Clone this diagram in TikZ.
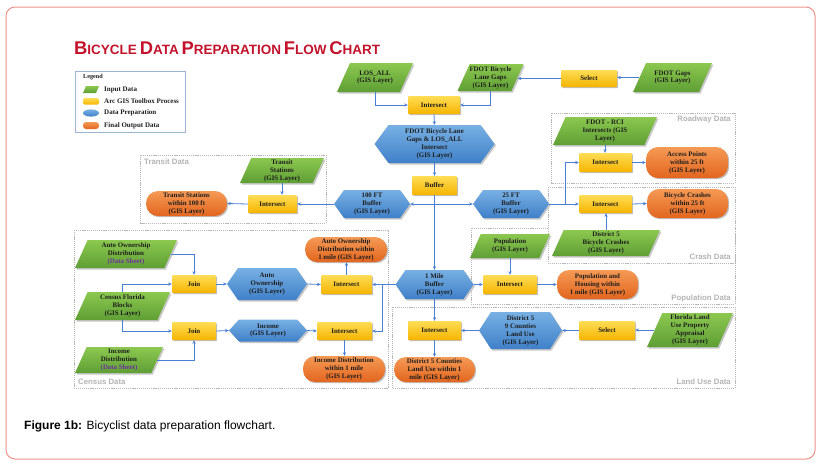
\documentclass[tikz,border=0pt]{standalone}
\usepackage{fontspec}
\setmainfont{Liberation Serif}
\newfontfamily\sansf{Liberation Sans}
\usetikzlibrary{arrows.meta,shadows}
\definecolor{gtop}{HTML}{8CC850}
\definecolor{gbot}{HTML}{5E9E34}
\definecolor{ytop}{HTML}{FFDD55}
\definecolor{ybot}{HTML}{F5B400}
\definecolor{btop}{HTML}{78B0E4}
\definecolor{bbot}{HTML}{3F80C8}
\definecolor{otop}{HTML}{F59A55}
\definecolor{obot}{HTML}{E2651E}
\definecolor{connc}{HTML}{4A7FD6}
\definecolor{grpc}{HTML}{B4B4B4}
\definecolor{titlec}{HTML}{C3122B}
\definecolor{framec}{HTML}{EE9088}
\definecolor{txtc}{HTML}{1E1E1E}
\definecolor{purp}{HTML}{7030A0}
\definecolor{legc}{HTML}{9DB5D5}
\newcommand\SCw[2]{{\fontsize{18.4}{18}\selectfont #1}{\fontsize{13.5}{18}\selectfont #2}}
\newcommand\paranode[6]{%
  \pgfmathsetmacro\PxL{#2-#4/2}\pgfmathsetmacro\PxR{#2+#4/2}%
  \pgfmathsetmacro\PyT{#3-#5/2}\pgfmathsetmacro\PyB{#3+#5/2}%
  \pgfmathsetmacro\PsL{0.45*#5}%
  \fill[black!22] ({\PxL+1.5},{\PyB+1.5}) -- ({\PxR-\PsL+1.5},{\PyB+1.5}) -- ({\PxR+1.5},{\PyT+1.5}) -- ({\PxL+\PsL+1.5},{\PyT+1.5}) -- cycle;
  \shade[top color=gtop,bottom color=gbot] (\PxL,\PyB) -- ({\PxR-\PsL},\PyB) -- (\PxR,\PyT) -- ({\PxL+\PsL},\PyT) -- cycle;
  \node[lbl, minimum width={#4-\PsL}, minimum height=#5] (#1) at (#2,#3) {#6};}
\newcommand\hexnode[7]{%
  \pgfmathsetmacro\PxL{#2-#4/2}\pgfmathsetmacro\PxR{#2+#4/2}%
  \pgfmathsetmacro\PyT{#3-#5/2}\pgfmathsetmacro\PyB{#3+#5/2}%
  \fill[black!22] ({\PxL+1.5},{#3+1.5}) -- ({\PxL+#6+1.5},{\PyT+1.5}) -- ({\PxR-#6+1.5},{\PyT+1.5}) -- ({\PxR+1.5},{#3+1.5}) -- ({\PxR-#6+1.5},{\PyB+1.5}) -- ({\PxL+#6+1.5},{\PyB+1.5}) -- cycle;
  \shade[top color=btop,bottom color=bbot] (\PxL,#3) -- ({\PxL+#6},\PyT) -- ({\PxR-#6},\PyT) -- (\PxR,#3) -- ({\PxR-#6},\PyB) -- ({\PxL+#6},\PyB) -- cycle;
  \node[lbl, minimum width=#4, minimum height=#5] (#1) at (#2,#3) {#7};}
\begin{document}
\begin{tikzpicture}[x=1pt,y=-1pt,
  lbl/.style={inner sep=0pt, align=center, text=txtc, font=\fontsize{6.9}{7.9}\selectfont\bfseries},
  ybox/.style={lbl, rounded corners=1pt, top color=ytop, bottom color=ybot,
    drop shadow={shadow xshift=1.2pt, shadow yshift=-1.2pt, fill=black, opacity=0.25}},
  obox/.style={lbl, rounded corners=12pt, top color=otop, bottom color=obot,
    drop shadow={shadow xshift=1.2pt, shadow yshift=-1.2pt, fill=black, opacity=0.25}},
  grpbox/.style={draw=black!28, line width=0.5pt, dash pattern=on 1.2pt off 0.9pt, fill=white},
  grplbl/.style={inner sep=0pt, text=grpc, font=\sansf\bfseries\fontsize{7.8}{8}\selectfont},
  conn/.style={draw=connc, line width=0.8pt, -{Stealth[length=3.6pt,width=3.2pt]}},
  legtxt/.style={inner sep=0pt, anchor=west, text=txtc, font=\fontsize{7}{8}\selectfont\bfseries}]
\useasboundingbox (0,0) rectangle (821,467);
% frame
\draw[framec, line width=1pt, rounded corners=9pt] (6,7) rectangle (815,459);
% title
\node[anchor=west, inner sep=0pt, text=titlec, font=\sansf\bfseries] (title) at (74,48)
  {\SCw{B}{ICYCLE} \SCw{D}{ATA} \SCw{P}{REPARATION} \SCw{F}{LOW} \SCw{C}{HART}};
% legend
\draw[legc, line width=0.7pt] (75,71) rectangle (185,132);
\node[legtxt, font=\fontsize{6.2}{7}\selectfont\bfseries] (legt) at (83,77) {Legend};
\shade[top color=gtop,bottom color=gbot] (83,93) -- (96,93) -- (99,86) -- (86,86) -- cycle;
\shade[top color=ytop,bottom color=ybot, rounded corners=1.5pt] (83,98) rectangle (99,104.5);
\shade[top color=btop,bottom color=bbot] (91,113) ellipse [x radius=8, y radius=3.6];
\shade[top color=otop,bottom color=obot, rounded corners=3pt] (83,122) rectangle (99,129);
\node[legtxt] (l1) at (104,89.5) {Input Data};
\node[legtxt] (l2) at (104,101.5) {Arc GIS Toolbox Process};
\node[legtxt] (l3) at (104,113) {Data Preparation};
\node[legtxt] (l4) at (104,125.5) {Final Output Data};
% group boxes
\draw[grpbox] (140,155) rectangle (326,223);
\node[grplbl, anchor=west] (gtr) at (144,161.5) {Transit Data};
\draw[grpbox] (551,113) rectangle (735,183);
\node[grplbl, anchor=east] (grd) at (731,119.5) {Roadway Data};
\draw[grpbox] (471,228) rectangle (735,304);
\node[grplbl, anchor=east] (gpd) at (731,298.5) {Population Data};
\draw[grpbox] (548,187) rectangle (735,263);
\node[grplbl, anchor=east] (gcd) at (731,256.5) {Crash Data};
\draw[grpbox] (392,307) rectangle (735,388);
\node[grplbl, anchor=east] (gld) at (731,382) {Land Use Data};
\draw[grpbox] (74,230) rectangle (388,388);
\node[grplbl, anchor=west] (gce) at (78,381.5) {Census Data};
% top row
\paranode{los}{375}{77.5}{76}{29}{LOS\_ALL\\(GIS Layer)}
\paranode{lg}{490.5}{77.5}{66}{27}{FDOT Bicycle\\Lane Gaps\\(GIS Layer)}
\paranode{gaps}{672.5}{77.5}{79}{29}{FDOT Gaps\\(GIS Layer)}
\node[ybox, minimum width=56, minimum height=17] (sel1) at (589,78.5) {Select};
\node[ybox, minimum width=52, minimum height=18] (i1) at (434,105) {Intersect};
\hexnode{hb}{434.5}{144}{120}{38}{14}{FDOT Bicycle Lane\\Gaps \& LOS\_ALL\\Intersect\\(GIS Layer)}
\node[ybox, minimum width=45, minimum height=19] (buf) at (434.5,185.5) {Buffer};
\hexnode{ft100}{372}{204}{76}{28}{10}{100 FT\\Buffer\\(GIS Layer)}
\hexnode{ft25}{511}{204}{76}{28}{10}{25 FT\\Buffer\\(GIS Layer)}
% transit
\paranode{ts}{282}{170.5}{84}{25}{Transit\\Stations\\(GIS Layer)}
\node[ybox, minimum width=49, minimum height=18] (ti) at (272.5,204) {Intersect};
\node[obox, minimum width=81, minimum height=25] (tso) at (186.5,203.5) {Transit Stations\\within 100 ft\\(GIS Layer)};
% roadway / crash
\paranode{rci}{605}{131}{104}{28}{FDOT - RCI\\Intersects (GIS\\Layer)}
\node[ybox, minimum width=53, minimum height=19] (ri) at (605.5,162.5) {Intersect};
\node[obox, minimum width=82, minimum height=31] (ap) at (687,162.5) {Access Points\\within 25 ft\\(GIS Layer)};
\node[ybox, minimum width=53, minimum height=18] (ci) at (605.5,204) {Intersect};
\node[obox, minimum width=81, minimum height=29] (bc) at (687.5,203.5) {Bicycle Crashes\\within 25 ft\\(GIS Layer)};
\paranode{d5bc}{606}{243}{108}{26}{District 5\\Bicycle Crashes\\(GIS Layer)}
% population
\paranode{pop}{510}{246}{80}{24}{Population\\(GIS Layer)}
\node[ybox, minimum width=54, minimum height=19] (pi) at (510,284.5) {Intersect};
\node[obox, minimum width=81, minimum height=29] (ph) at (597.5,284.5) {Population and\\Housing within\\1 mile (GIS Layer)};
\hexnode{mile}{434.5}{284.5}{78}{29}{10}{1 Mile\\Buffer\\(GIS Layer)}
% land use
\node[ybox, minimum width=53, minimum height=19] (lui) at (434.5,330.5) {Intersect};
\hexnode{luh}{520.5}{330.5}{83}{37}{12}{District 5\\9 Counties\\Land Use\\(GIS Layer)}
\node[ybox, minimum width=56, minimum height=19] (sel2) at (607,330.5) {Select};
\paranode{fl}{690}{330}{86}{34}{Florida Land\\Use Property\\Appraisal\\(GIS Layer)}
\node[obox, minimum width=81, minimum height=25] (d5o) at (434.5,369.5) {District 5 Counties\\Land Use within 1\\mile (GIS Layer)};
% census
\paranode{aod}{126}{254}{102}{28}{Auto Ownership\\Distribution\\{\color{purp}(Data Sheet)}}
\paranode{cfb}{122.5}{306}{95}{28}{Census Florida\\Blocks\\(GIS Layer)}
\paranode{incd}{119}{360}{88}{26}{Income\\Distribution\\{\color{purp}(Data Sheet)}}
\node[ybox, minimum width=44, minimum height=18] (join1) at (194,284) {Join};
\node[ybox, minimum width=44, minimum height=18] (join2) at (194,331) {Join};
\hexnode{aoh}{267}{284}{80}{32}{11}{Auto\\Ownership\\(GIS Layer)}
\hexnode{ih}{268}{330.5}{78}{22}{10}{Income\\(GIS Layer)}
\node[ybox, minimum width=51, minimum height=19] (ai) at (346.5,284.5) {Intersect};
\node[ybox, minimum width=55, minimum height=18] (ii) at (344.5,331) {Intersect};
\node[obox, minimum width=82, minimum height=25] (ao) at (346,249.5) {Auto Ownership\\Distribution within\\1 mile (GIS Layer)};
\node[obox, minimum width=82, minimum height=26] (io) at (344,369) {Income Distribution\\within 1 mile\\(GIS Layer)};
% junction coordinates
\coordinate (j1) at (434.5,204);
\coordinate (j2) at (565,204);
\coordinate (j3) at (382,284.5);
% connectors
\draw[conn] (los.south) |- (i1.west);
\draw[conn] (lg.south) |- (i1.east);
\draw[conn] (sel1.west) -- (sel1.west -| lg.east);
\draw[conn] (gaps.west) -- (gaps.west -| sel1.east);
\draw[conn] (i1.south) -- (hb.north);
\draw[conn] (hb.south) -- (buf.north);
\draw[conn] (buf.south) -- (mile.north);
\draw[conn] (j1) -- (ft100.east);
\draw[conn] (j1) -- (ft25.west);
\draw[conn] (ft100.west) -- (ti.east);
\draw[conn] (ti.west) -- (tso.east);
\draw[conn] (ts.south) -- (ts.south |- ti.north);
\draw[conn] (ft25.east) -- (ci.west);
\draw[conn] (j2) |- (ri.west);
\draw[conn] (rci.south) -- (rci.south |- ri.north);
\draw[conn] (ri.east) -- (ap.west);
\draw[conn] (ci.east) -- (bc.west);
\draw[conn] (d5bc.north) -- (d5bc.north |- ci.south);
\draw[conn] (mile.east) -- (pi.west);
\draw[conn] (pop.south) -- (pi.north);
\draw[conn] (pi.east) -- (ph.west);
\draw[conn] (mile.south) -- (lui.north);
\draw[conn] (luh.west) -- (lui.east);
\draw[conn] (sel2.west) -- (luh.east);
\draw[conn] (fl.west) -- (fl.west -| sel2.east);
\draw[conn] (lui.south) -- (d5o.north);
\draw[conn] (mile.west) -- (ai.east);
\draw[conn] (j3) |- (ii.east);
\draw[conn] (ai.north) -- (ai.north |- ao.south);
\draw[conn] (ii.south) -- (ii.south |- io.north);
\draw[conn] (aoh.east) -- (ai.west);
\draw[conn] (ih.east) -- (ii.west);
\draw[conn] (join1.east) -- (aoh.west);
\draw[conn] (join2.east) -- (ih.west);
\draw[conn] (aod.east) -| (join1.north);
\draw[conn] (cfb.north) |- (join1.west);
\draw[conn] (cfb.south) |- (join2.west);
\draw[conn] (incd.east) -| (join2.south);
% caption
\node[anchor=west, inner sep=0pt, font=\sansf\fontsize{12}{14}\selectfont] (cap) at (24,426)
  {\textbf{Figure 1b:} Bicyclist data preparation flowchart.};
\end{tikzpicture}
\end{document}
